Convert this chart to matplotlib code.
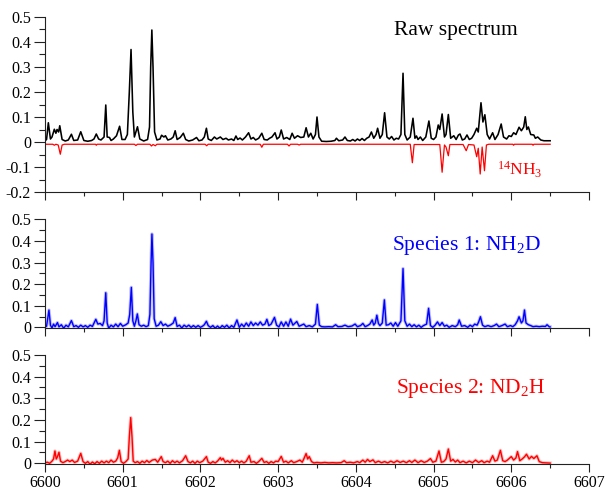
import matplotlib
matplotlib.use("Agg")
import matplotlib.pyplot as plt
from matplotlib.ticker import MultipleLocator

plt.rcParams['font.family'] = ['Liberation Serif', 'DejaVu Serif']
plt.rcParams['mathtext.fontset'] = 'custom'
plt.rcParams['mathtext.rm'] = 'Liberation Serif'
plt.rcParams['mathtext.it'] = 'Liberation Serif:italic'

# ---------------- data (wavenumber, absorbance) ----------------
raw_pts = [
    (6600.00, 0.005), (6600.02, 0.01), (6600.043, 0.077), (6600.07, 0.012), (6600.09, 0.02),
    (6600.12, 0.051), (6600.14, 0.035), (6600.155, 0.05), (6600.175, 0.04), (6600.19, 0.065),
    (6600.22, 0.01), (6600.26, 0.004), (6600.30, 0.008), (6600.34, 0.031), (6600.37, 0.006),
    (6600.42, 0.008), (6600.46, 0.041), (6600.50, 0.006), (6600.55, 0.003), (6600.60, 0.006),
    (6600.63, 0.012), (6600.66, 0.032), (6600.69, 0.012), (6600.72, 0.008), (6600.76, 0.02),
    (6600.782, 0.148), (6600.80, 0.02), (6600.83, 0.018), (6600.85, 0.006), (6600.88, 0.012),
    (6600.92, 0.025), (6600.96, 0.063), (6600.99, 0.01), (6601.03, 0.01), (6601.06, 0.03),
    (6601.085, 0.2), (6601.107, 0.37), (6601.13, 0.12), (6601.15, 0.02), (6601.17, 0.04),
    (6601.19, 0.061), (6601.22, 0.012), (6601.27, 0.004), (6601.32, 0.01), (6601.345, 0.06),
    (6601.36, 0.3), (6601.375, 0.448), (6601.39, 0.3), (6601.41, 0.04), (6601.44, 0.008),
    (6601.48, 0.012), (6601.50, 0.027), (6601.53, 0.02), (6601.55, 0.025), (6601.58, 0.008),
    (6601.62, 0.012), (6601.65, 0.02), (6601.675, 0.045), (6601.70, 0.01), (6601.74, 0.018),
    (6601.78, 0.035), (6601.81, 0.01), (6601.85, 0.004), (6601.90, 0.008), (6601.95, 0.018),
    (6601.98, 0.005), (6602.02, 0.008), (6602.05, 0.02), (6602.077, 0.055), (6602.10, 0.012),
    (6602.14, 0.006), (6602.18, 0.02), (6602.21, 0.012), (6602.256, 0.02), (6602.29, 0.01),
    (6602.33, 0.015), (6602.36, 0.008), (6602.40, 0.012), (6602.43, 0.006), (6602.457, 0.024),
    (6602.48, 0.01), (6602.51, 0.016), (6602.54, 0.008), (6602.58, 0.02), (6602.62, 0.037),
    (6602.65, 0.012), (6602.68, 0.018), (6602.71, 0.008), (6602.75, 0.015), (6602.79, 0.035),
    (6602.82, 0.01), (6602.86, 0.008), (6602.89, 0.015), (6602.92, 0.02), (6602.96, 0.037),
    (6602.985, 0.012), (6603.015, 0.02), (6603.04, 0.048), (6603.07, 0.012), (6603.11, 0.018),
    (6603.15, 0.01), (6603.18, 0.035), (6603.21, 0.015), (6603.25, 0.025), (6603.29, 0.018),
    (6603.33, 0.02), (6603.36, 0.057), (6603.39, 0.02), (6603.42, 0.035), (6603.45, 0.012),
    (6603.48, 0.03), (6603.50, 0.10), (6603.525, 0.02), (6603.56, 0.003), (6603.62, 0.002),
    (6603.68, 0.003), (6603.73, 0.006), (6603.75, 0.015), (6603.78, 0.005), (6603.83, 0.008),
    (6603.86, 0.02), (6603.89, 0.006), (6603.93, 0.004), (6603.96, 0.01), (6603.99, 0.004),
    (6604.02, 0.012), (6604.05, 0.006), (6604.08, 0.014), (6604.11, 0.006), (6604.14, 0.015),
    (6604.17, 0.02), (6604.20, 0.04), (6604.23, 0.015), (6604.26, 0.03), (6604.28, 0.055),
    (6604.31, 0.015), (6604.34, 0.03), (6604.37, 0.117), (6604.40, 0.02), (6604.43, 0.012),
    (6604.46, 0.022), (6604.49, 0.008), (6604.52, 0.015), (6604.55, 0.012), (6604.58, 0.03),
    (6604.607, 0.275), (6604.63, 0.03), (6604.66, 0.008), (6604.70, 0.02), (6604.735, 0.095),
    (6604.76, 0.015), (6604.78, 0.024), (6604.80, 0.01), (6604.83, 0.02), (6604.86, 0.006),
    (6604.90, 0.02), (6604.94, 0.084), (6604.97, 0.015), (6605.00, 0.01), (6605.03, 0.02),
    (6605.06, 0.068), (6605.08, 0.05), (6605.11, 0.112), (6605.14, 0.02), (6605.16, 0.03),
    (6605.19, 0.11), (6605.22, 0.015), (6605.26, 0.025), (6605.29, 0.01), (6605.32, 0.028),
    (6605.34, 0.032), (6605.37, 0.008), (6605.40, 0.012), (6605.43, 0.028), (6605.46, 0.01),
    (6605.49, 0.015), (6605.52, 0.03), (6605.555, 0.055), (6605.575, 0.04), (6605.61, 0.157),
    (6605.635, 0.08), (6605.66, 0.109), (6605.69, 0.03), (6605.72, 0.012), (6605.76, 0.037),
    (6605.79, 0.01), (6605.83, 0.03), (6605.87, 0.072), (6605.90, 0.02), (6605.94, 0.012),
    (6605.97, 0.025), (6606.00, 0.022), (6606.03, 0.037), (6606.06, 0.03), (6606.10, 0.059),
    (6606.13, 0.045), (6606.16, 0.06), (6606.18, 0.101), (6606.20, 0.05), (6606.22, 0.06),
    (6606.25, 0.03), (6606.29, 0.028), (6606.31, 0.015), (6606.34, 0.02), (6606.38, 0.008),
    (6606.42, 0.005), (6606.46, 0.005), (6606.50, 0.005),
]

nh3_pts = [
    (6600.00, -0.009), (6600.10, -0.009), (6600.12, -0.013), (6600.14, -0.009), (6600.17, -0.012),
    (6600.197, -0.049), (6600.22, -0.012), (6600.25, -0.009), (6600.65, -0.009), (6600.66, -0.013),
    (6600.67, -0.009), (6601.15, -0.009), (6601.17, -0.014), (6601.19, -0.009), (6601.35, -0.009),
    (6601.37, -0.016), (6601.39, -0.010), (6601.42, -0.015), (6601.44, -0.009), (6602.06, -0.009),
    (6602.08, -0.015), (6602.10, -0.009), (6602.77, -0.009), (6602.79, -0.021), (6602.81, -0.009),
    (6603.12, -0.009), (6603.14, -0.016), (6603.16, -0.009), (6603.25, -0.009), (6603.27, -0.012),
    (6603.29, -0.009), (6604.70, -0.009), (6604.727, -0.083), (6604.75, -0.010), (6605.08, -0.010),
    (6605.11, -0.121), (6605.14, -0.012), (6605.16, -0.020), (6605.19, -0.055), (6605.21, -0.010),
    (6605.38, -0.010), (6605.42, -0.035), (6605.45, -0.010), (6605.52, -0.012), (6605.555, -0.059),
    (6605.575, -0.025), (6605.60, -0.128), (6605.625, -0.020), (6605.655, -0.115), (6605.68, -0.012),
    (6605.71, -0.009), (6606.02, -0.009), (6606.03, -0.013), (6606.04, -0.009), (6606.27, -0.009),
    (6606.28, -0.013), (6606.29, -0.009), (6606.50, -0.009),
]

nh2d_pts = [
    (6600.00, 0.002), (6600.02, 0.005), (6600.051, 0.080), (6600.07, 0.01), (6600.09, -0.003),
    (6600.11, 0.015), (6600.13, 0.003), (6600.16, 0.022), (6600.18, 0.002), (6600.21, 0.012),
    (6600.24, -0.004), (6600.27, 0.01), (6600.30, 0.002), (6600.34, 0.031), (6600.37, 0.003),
    (6600.40, 0.008), (6600.43, 0.0), (6600.46, 0.01), (6600.49, 0.002), (6600.52, 0.008),
    (6600.55, 0.0), (6600.58, 0.01), (6600.61, 0.004), (6600.654, 0.037), (6600.68, 0.015),
    (6600.71, 0.018), (6600.74, 0.008), (6600.76, 0.03), (6600.782, 0.16), (6600.80, 0.02),
    (6600.82, -0.004), (6600.85, 0.01), (6600.88, 0.002), (6600.91, 0.015), (6600.94, 0.003),
    (6600.97, 0.018), (6601.00, 0.005), (6601.04, 0.012), (6601.07, 0.02), (6601.09, 0.06),
    (6601.111, 0.185), (6601.13, 0.03), (6601.15, 0.005), (6601.17, 0.03), (6601.188, 0.062),
    (6601.21, 0.012), (6601.24, 0.005), (6601.27, 0.01), (6601.30, 0.003), (6601.33, 0.008),
    (6601.35, 0.06), (6601.365, 0.3), (6601.376, 0.432), (6601.39, 0.3), (6601.405, 0.04),
    (6601.43, 0.005), (6601.46, 0.01), (6601.49, 0.026), (6601.52, 0.008), (6601.55, 0.015),
    (6601.58, 0.005), (6601.62, 0.012), (6601.65, 0.02), (6601.675, 0.045), (6601.70, 0.004),
    (6601.73, 0.01), (6601.76, -0.003), (6601.79, 0.01), (6601.82, 0.002), (6601.85, 0.01),
    (6601.88, 0.0), (6601.91, 0.008), (6601.94, 0.0), (6601.97, 0.008), (6602.00, 0.0),
    (6602.03, 0.006), (6602.05, 0.012), (6602.077, 0.028), (6602.10, 0.008), (6602.13, 0.0),
    (6602.16, 0.008), (6602.19, -0.004), (6602.22, 0.006), (6602.25, -0.004), (6602.28, 0.008),
    (6602.31, 0.0), (6602.34, 0.01), (6602.37, -0.003), (6602.40, 0.008), (6602.43, 0.0),
    (6602.47, 0.034), (6602.50, 0.0), (6602.53, 0.015), (6602.56, 0.003), (6602.59, 0.02),
    (6602.62, 0.005), (6602.65, 0.025), (6602.68, 0.008), (6602.71, 0.02), (6602.74, 0.01),
    (6602.77, 0.025), (6602.80, 0.01), (6602.83, 0.015), (6602.855, 0.037), (6602.88, 0.008),
    (6602.91, 0.015), (6602.953, 0.046), (6602.98, 0.01), (6603.01, 0.002), (6603.04, 0.025),
    (6603.07, 0.005), (6603.10, 0.025), (6603.13, 0.005), (6603.16, 0.038), (6603.19, 0.01),
    (6603.22, 0.02), (6603.24, 0.027), (6603.27, 0.005), (6603.30, 0.01), (6603.33, 0.015),
    (6603.36, 0.003), (6603.40, 0.008), (6603.44, 0.002), (6603.48, 0.015), (6603.504, 0.106),
    (6603.53, 0.01), (6603.56, 0.003), (6603.60, 0.002), (6603.65, 0.003), (6603.70, 0.002),
    (6603.74, 0.012), (6603.77, 0.003), (6603.82, 0.004), (6603.86, 0.01), (6603.90, 0.003),
    (6603.95, 0.006), (6603.99, 0.015), (6604.02, 0.003), (6604.06, 0.008), (6604.09, 0.018),
    (6604.12, 0.003), (6604.15, 0.008), (6604.18, 0.015), (6604.21, 0.034), (6604.23, 0.01),
    (6604.25, 0.02), (6604.27, 0.056), (6604.29, 0.018), (6604.31, 0.008), (6604.34, 0.02),
    (6604.367, 0.127), (6604.39, 0.01), (6604.42, 0.012), (6604.45, 0.02), (6604.48, 0.005),
    (6604.51, 0.022), (6604.54, 0.005), (6604.58, 0.03), (6604.607, 0.272), (6604.63, 0.03),
    (6604.66, 0.005), (6604.69, 0.015), (6604.72, 0.003), (6604.75, 0.012), (6604.78, 0.002),
    (6604.81, 0.01), (6604.84, 0.0), (6604.87, 0.008), (6604.91, 0.015), (6604.936, 0.088),
    (6604.96, 0.008), (6604.99, 0.0), (6605.02, 0.01), (6605.05, 0.025), (6605.08, 0.008),
    (6605.11, 0.022), (6605.14, 0.005), (6605.17, 0.01), (6605.20, 0.0), (6605.24, 0.008),
    (6605.28, 0.003), (6605.31, 0.012), (6605.33, 0.034), (6605.36, 0.005), (6605.40, 0.008),
    (6605.44, 0.0), (6605.47, 0.01), (6605.50, 0.003), (6605.53, 0.015), (6605.56, 0.01),
    (6605.58, 0.025), (6605.603, 0.049), (6605.63, 0.01), (6605.66, 0.003), (6605.70, 0.008),
    (6605.74, 0.003), (6605.78, 0.008), (6605.81, 0.015), (6605.84, 0.003), (6605.88, 0.008),
    (6605.92, 0.015), (6605.95, 0.003), (6605.99, 0.008), (6606.02, 0.003), (6606.05, 0.012),
    (6606.08, 0.03), (6606.10, 0.049), (6606.13, 0.02), (6606.15, 0.03), (6606.17, 0.08),
    (6606.19, 0.02), (6606.22, 0.012), (6606.25, 0.008), (6606.28, 0.003), (6606.32, 0.005),
    (6606.36, 0.003), (6606.40, 0.005), (6606.44, 0.004), (6606.46, 0.012), (6606.49, 0.002),
    (6606.50, 0.002),
]

nd2h_pts = [
    (6600.00, 0.002), (6600.03, 0.005), (6600.06, 0.0), (6600.09, 0.01), (6600.11, 0.02),
    (6600.128, 0.057), (6600.145, 0.02), (6600.16, 0.03), (6600.18, 0.051), (6600.20, 0.01),
    (6600.23, 0.003), (6600.26, 0.008), (6600.29, 0.015), (6600.32, 0.008), (6600.35, 0.015),
    (6600.38, 0.004), (6600.42, 0.01), (6600.46, 0.046), (6600.49, 0.008), (6600.52, 0.0),
    (6600.55, 0.008), (6600.58, -0.004), (6600.61, 0.006), (6600.64, -0.002), (6600.67, 0.008),
    (6600.70, 0.0), (6600.73, 0.01), (6600.76, 0.002), (6600.79, 0.01), (6600.82, 0.003),
    (6600.85, 0.015), (6600.88, 0.005), (6600.91, 0.01), (6600.935, 0.025), (6600.957, 0.06),
    (6600.98, 0.008), (6601.01, 0.0), (6601.04, 0.008), (6601.07, 0.02), (6601.085, 0.12),
    (6601.103, 0.211), (6601.12, 0.12), (6601.135, 0.01), (6601.16, 0.003), (6601.19, 0.008),
    (6601.22, 0.0), (6601.25, 0.01), (6601.28, 0.003), (6601.31, 0.013), (6601.34, 0.004),
    (6601.38, 0.015), (6601.42, 0.018), (6601.45, 0.005), (6601.496, 0.031), (6601.52, 0.008),
    (6601.55, 0.003), (6601.58, 0.01), (6601.61, 0.0), (6601.64, 0.012), (6601.67, 0.003),
    (6601.70, 0.01), (6601.73, 0.002), (6601.77, 0.012), (6601.81, 0.035), (6601.84, 0.008),
    (6601.87, 0.002), (6601.90, 0.01), (6601.93, 0.0), (6601.96, 0.01), (6601.99, 0.003),
    (6602.03, 0.01), (6602.077, 0.031), (6602.10, 0.005), (6602.13, 0.0), (6602.16, 0.008),
    (6602.19, 0.002), (6602.22, 0.01), (6602.256, 0.026), (6602.27, 0.015), (6602.29, 0.023),
    (6602.32, 0.005), (6602.35, 0.012), (6602.38, 0.003), (6602.41, 0.015), (6602.44, 0.005),
    (6602.47, 0.012), (6602.50, 0.003), (6602.53, 0.01), (6602.56, 0.002), (6602.59, 0.01),
    (6602.628, 0.035), (6602.65, 0.005), (6602.69, 0.008), (6602.72, 0.0), (6602.75, 0.008),
    (6602.79, 0.023), (6602.82, 0.004), (6602.85, 0.008), (6602.88, 0.0), (6602.91, 0.008),
    (6602.94, 0.002), (6602.97, 0.01), (6603.00, 0.008), (6603.04, 0.032), (6603.07, 0.005),
    (6603.10, 0.01), (6603.13, 0.002), (6603.17, 0.012), (6603.20, 0.003), (6603.24, 0.008),
    (6603.28, 0.015), (6603.31, 0.005), (6603.33, 0.02), (6603.36, 0.045), (6603.38, 0.02),
    (6603.40, 0.031), (6603.43, 0.008), (6603.46, 0.002), (6603.50, 0.004), (6603.55, 0.002),
    (6603.60, 0.004), (6603.65, 0.002), (6603.70, 0.003), (6603.75, 0.002), (6603.81, 0.003),
    (6603.85, 0.012), (6603.88, 0.003), (6603.93, 0.005), (6603.97, 0.002), (6604.02, 0.008),
    (6604.05, 0.003), (6604.09, 0.015), (6604.12, 0.005), (6604.15, 0.018), (6604.18, 0.008),
    (6604.22, 0.016), (6604.25, 0.003), (6604.29, 0.01), (6604.33, 0.003), (6604.37, 0.008),
    (6604.41, 0.002), (6604.45, 0.01), (6604.49, 0.003), (6604.53, 0.012), (6604.57, 0.004),
    (6604.61, 0.01), (6604.65, 0.003), (6604.69, 0.012), (6604.72, 0.004), (6604.76, 0.015),
    (6604.80, 0.003), (6604.84, 0.012), (6604.88, 0.004), (6604.92, 0.01), (6604.96, 0.022),
    (6604.99, 0.005), (6605.03, 0.01), (6605.07, 0.057), (6605.10, 0.005), (6605.13, 0.008),
    (6605.16, 0.02), (6605.19, 0.066), (6605.22, 0.01), (6605.25, 0.018), (6605.28, 0.006),
    (6605.31, 0.015), (6605.34, 0.003), (6605.38, 0.01), (6605.42, 0.002), (6605.46, 0.01),
    (6605.50, 0.003), (6605.54, 0.015), (6605.58, 0.004), (6605.62, 0.012), (6605.65, 0.003),
    (6605.69, 0.01), (6605.72, 0.005), (6605.76, 0.035), (6605.79, 0.01), (6605.82, 0.015),
    (6605.86, 0.06), (6605.89, 0.012), (6605.92, 0.008), (6605.95, 0.015), (6606.00, 0.031),
    (6606.03, 0.015), (6606.06, 0.025), (6606.08, 0.054), (6606.11, 0.012), (6606.14, 0.02),
    (6606.17, 0.03), (6606.196, 0.042), (6606.23, 0.02), (6606.26, 0.032), (6606.29, 0.022),
    (6606.33, 0.035), (6606.36, 0.008), (6606.40, 0.003), (6606.45, 0.002), (6606.50, 0.001),
]

x_ticks = [6600, 6601, 6602, 6603, 6604, 6605, 6606, 6607]
x_tick_labels = ['6600', '6601', '6602', '6603', '6604', '6605', '6606', '6607']
y_ticks_top = [-0.2, -0.1, 0.0, 0.1, 0.2, 0.3, 0.4, 0.5]
y_tick_labels_top = ['-0.2', '-0.1', '0', '0.1', '0.2', '0.3', '0.4', '0.5']
y_ticks_sp = [0.0, 0.1, 0.2, 0.3, 0.4, 0.5]
y_tick_labels_sp = ['0', '0.1', '0.2', '0.3', '0.4', '0.5']

# ---------------- figure ----------------
fig = plt.figure(figsize=(6.05, 4.91), dpi=100)
L, W = 45 / 605, 544 / 605
ax1 = fig.add_axes([L, 1 - 192 / 491, W, 175 / 491])
ax2 = fig.add_axes([L, 1 - 328.4 / 491, W, 109.1 / 491])
ax3 = fig.add_axes([L, 1 - 464.4 / 491, W, 109.4 / 491])


def split(pts):
    return [p[0] for p in pts], [p[1] for p in pts]


def style(ax, yt, ylab, ylim, show_x):
    ax.set_xlim(6600, 6607)
    ax.set_ylim(*ylim)
    for s in ('top', 'right'):
        ax.spines[s].set_visible(False)
    for s in ('left', 'bottom'):
        ax.spines[s].set_linewidth(0.8)
        ax.spines[s].set_color('#222222')
    ax.set_xticks(x_ticks)
    ax.xaxis.set_minor_locator(MultipleLocator(0.5))
    ax.yaxis.set_minor_locator(MultipleLocator(0.05))
    ax.set_yticks(yt)
    ax.set_yticklabels(ylab)
    if show_x:
        ax.set_xticklabels(x_tick_labels)
    else:
        ax.set_xticklabels([])
    ax.tick_params(which='major', direction='out', width=0.8, color='#222222',
                   labelsize=11.5, pad=2)
    ax.tick_params(which='minor', direction='out', width=0.8, color='#222222')
    ax.tick_params(axis='y', which='major', length=8)
    ax.tick_params(axis='y', which='minor', length=4.5)
    ax.tick_params(axis='x', which='major', length=5.5)
    ax.tick_params(axis='x', which='minor', length=3)


# top: raw spectrum and 14NH3 (inverted)
x, y = split(raw_pts)
ax1.plot(x, y, color='black', lw=1.15)
x, y = split(nh3_pts)
ax1.plot(x, y, color='#ff0000', lw=0.9)
style(ax1, y_ticks_top, y_tick_labels_top, (-0.2, 0.5), False)
ax1.text(6604.49, 0.428, 'Raw spectrum', fontsize=15.5, color='black', ha='left', va='baseline')
ax1.text(6605.81, -0.134, r'$^{14}$NH$_3$', fontsize=12.5, color='#ff0000', ha='left', va='baseline')

# middle: species 1
x, y = split(nh2d_pts)
ax2.plot(x, y, color='#0000ff', lw=2.4, alpha=0.25)
ax2.plot(x, y, color='#0000ff', lw=1.0)
style(ax2, y_ticks_sp, y_tick_labels_sp, (-0.005, 0.5), False)
ax2.text(6604.47, 0.358, r'Species 1: NH$_2$D', fontsize=15.5, color='#0000ff',
         ha='left', va='baseline')

# bottom: species 2
x, y = split(nd2h_pts)
ax3.plot(x, y, color='#ff0000', lw=2.4, alpha=0.25)
ax3.plot(x, y, color='#ff0000', lw=1.0)
style(ax3, y_ticks_sp, y_tick_labels_sp, (-0.005, 0.5), True)
ax3.text(6604.52, 0.323, r'Species 2: ND$_2$H', fontsize=15.5, color='#ff0000',
         ha='left', va='baseline')

fig.savefig('out.png', dpi=100)
